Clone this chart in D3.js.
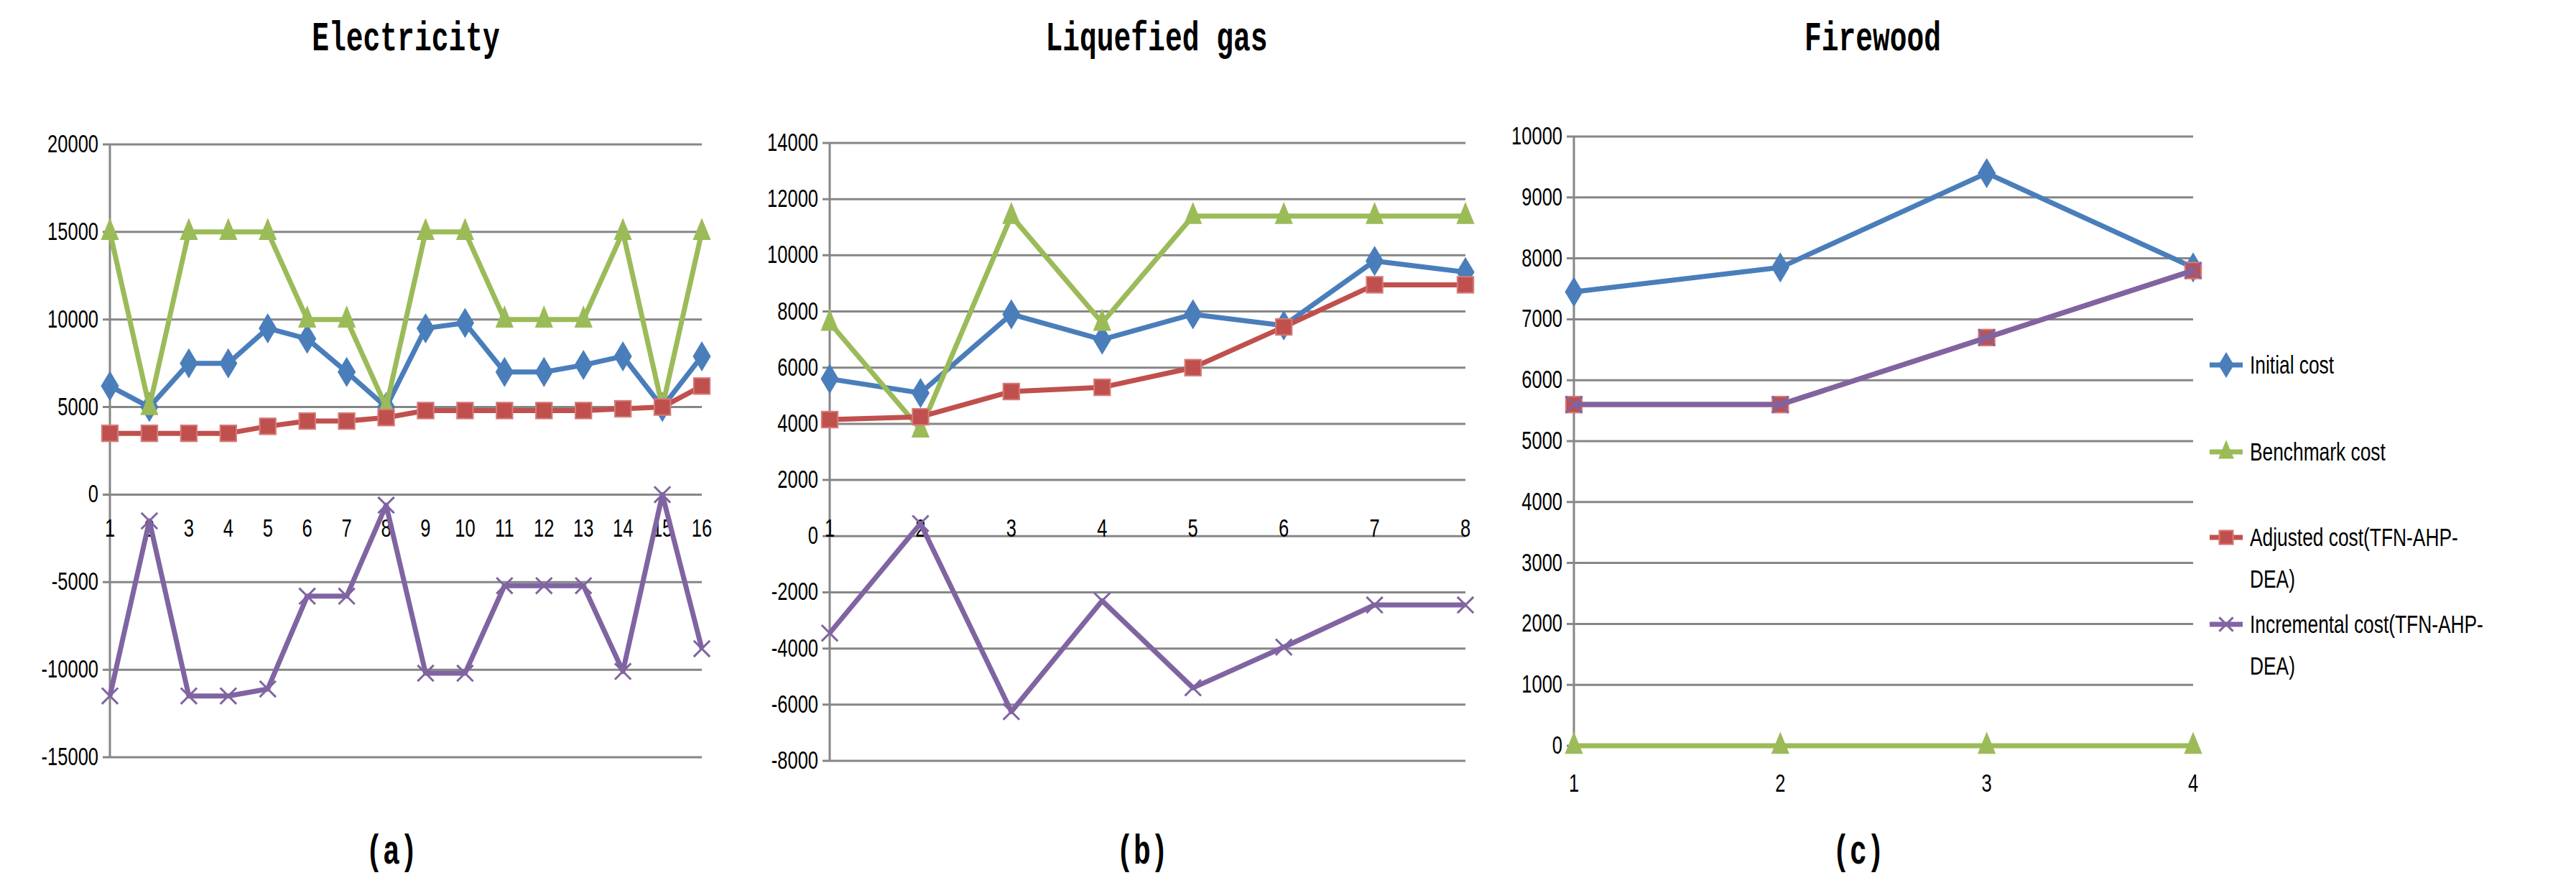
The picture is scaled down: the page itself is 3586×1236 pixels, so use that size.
<!DOCTYPE html>
<html><head><meta charset="utf-8">
<script src="https://cdn.jsdelivr.net/npm/d3@7"></script>
<style>body{margin:0;background:#fff}</style>
</head><body>
<svg id="chart" width="3586" height="1236"></svg>
<script>
// series names
var seriesNames=["Initial cost","Benchmark cost","Adjusted cost(TFN-AHP-DEA)","Incremental cost(TFN-AHP-DEA)"]
var colors=["#4a7ebb","#9bbb59","#c0504d","#8064a2"]
var markers=["diamond","triangle","square","cross"]

// (a) Electricity
var elecInitial=[6200,5000,7500,7500,9500,8900,7000,5000,9500,9800,7000,7000,7400,7900,5000,7900]
var elecBench=[15000,5000,15000,15000,15000,10000,10000,5000,15000,15000,10000,10000,10000,15000,5000,15000]
var elecAdjusted=[3500,3500,3500,3500,3900,4200,4200,4400,4800,4800,4800,4800,4800,4900,5000,6200]
var elecIncr=[-11500,-1500,-11500,-11500,-11100,-5800,-5800,-600,-10200,-10200,-5200,-5200,-5200,-10100,0,-8800]
var elecTicks=[-15000,-10000,-5000,0,5000,10000,15000,20000]

// (b) Liquefied gas
var gasInitial=[5600,5100,7900,7000,7900,7500,9800,9400]
var gasBench=[7600,3800,11400,7600,11400,11400,11400,11400]
var gasAdjusted=[4150,4250,5150,5300,6000,7450,8950,8950]
var gasIncr=[-3450,450,-6250,-2300,-5400,-3950,-2450,-2450]
var gasTicks=[-8000,-6000,-4000,-2000,0,2000,4000,6000,8000,10000,12000,14000]

// (c) Firewood
var woodInitial=[7450,7850,9400,7850]
var woodBench=[0,0,0,0]
var woodAdjusted=[5600,5600,6700,7800]
var woodIncr=[5600,5600,6700,7800]
var woodTicks=[0,1000,2000,3000,4000,5000,6000,7000,8000,9000,10000]

var svg=d3.select("#chart")
var labelFont="'Liberation Sans Narrow','Liberation Sans',Arial,sans-serif"
var titleFont="'Liberation Mono','DejaVu Sans Mono',monospace"

function marker(g,type,x,y,c,s){
  if(type=="diamond"){
    g.append("path").attr("d","M"+x+","+(y-s*0.75)+"L"+(x+s*0.45)+","+y+"L"+x+","+(y+s*0.75)+"L"+(x-s*0.45)+","+y+"Z").attr("fill",c)
  }else if(type=="triangle"){
    g.append("path").attr("d","M"+x+","+(y-s*0.7)+"L"+(x+s*0.45)+","+(y+s*0.4)+"L"+(x-s*0.45)+","+(y+s*0.4)+"Z").attr("fill",c)
  }else if(type=="square"){
    g.append("rect").attr("x",x-s*0.4).attr("y",y-s*0.4).attr("width",s*0.8).attr("height",s*0.8).attr("fill",c).attr("stroke","#d47c7a").attr("stroke-width",2)
  }else{
    g.append("path").attr("d","M"+(x-s*0.4)+","+(y-s*0.4)+"L"+(x+s*0.4)+","+(y+s*0.4)+"M"+(x+s*0.4)+","+(y-s*0.4)+"L"+(x-s*0.4)+","+(y+s*0.4)).attr("stroke",c).attr("stroke-width",3)
  }
}

// condensed text like the original
function narrowText(g,x,y,anchor,t,size){
  return g.append("text").attr("transform","translate("+x+","+y+") scale(0.85,1.15)")
    .attr("text-anchor",anchor).attr("font-family",labelFont).attr("font-size",size).text(t)
}

function panel(p){
  var n=p.series[0].length
  var x=d3.scaleLinear().domain([1,n]).range([p.left,p.right])
  var y=d3.scaleLinear().domain(p.domain).range([p.bottom,p.top])
  var g=svg.append("g")
  // gridlines
  g.selectAll(".grid").data(p.ticks).enter().append("line")
    .attr("x1",p.left-10).attr("x2",p.right).attr("y1",d=>y(d)).attr("y2",d=>y(d))
    .attr("stroke","#868686").attr("stroke-width",3)
  g.append("line").attr("x1",p.left).attr("x2",p.left).attr("y1",y(p.domain[0])).attr("y2",y(p.domain[1]))
    .attr("stroke","#868686").attr("stroke-width",3)
  p.ticks.forEach(function(d){ narrowText(g,p.left-16,y(d)+11,"end",d,30) })
  d3.range(1,n+1).forEach(function(d){ narrowText(g,x(d),p.xLabelY,"middle",d,30) })
  var line=d3.line().x((d,i)=>x(i+1)).y(d=>y(d))
  p.series.forEach(function(s,k){
    g.append("path").datum(s).attr("d",line).attr("fill","none")
      .attr("stroke",colors[k]).attr("stroke-width",7).attr("stroke-linejoin","round")
    s.forEach(function(v,i){ marker(g,markers[k],x(i+1),y(v),colors[k],28) })
  })
  svg.append("text").attr("transform","translate("+p.titleX+",70) scale(0.9,1.3)").attr("text-anchor","middle")
    .attr("font-family",titleFont).attr("font-weight","bold").attr("font-size",44).text(p.title)
  svg.append("text").attr("transform","translate("+(p.titleX-20)+",1202) scale(0.9,1.3)").attr("text-anchor","middle")
    .attr("font-family",titleFont).attr("font-weight","bold").attr("font-size",44).text(p.label)
}

panel({title:"Electricity",label:"(a)",titleX:565,left:153,right:977,top:201,bottom:1054,
  domain:[-15000,20000],ticks:elecTicks,xLabelY:747,
  series:[elecInitial,elecBench,elecAdjusted,elecIncr]})
panel({title:"Liquefied gas",label:"(b)",titleX:1610,left:1155,right:2040,top:199,bottom:1059,
  domain:[-8000,14000],ticks:gasTicks,xLabelY:747,
  series:[gasInitial,gasBench,gasAdjusted,gasIncr]})
panel({title:"Firewood",label:"(c)",titleX:2607,left:2191,right:3053,top:190,bottom:1038,
  domain:[0,10000],ticks:woodTicks,xLabelY:1102,
  series:[woodInitial,woodBench,woodAdjusted,woodIncr]})

// legend
var legY=[508,629,748,869]
var legLines=[["Initial cost"],["Benchmark cost"],["Adjusted cost(TFN-AHP-","DEA)"],["Incremental cost(TFN-AHP-","DEA)"]]
var lg=svg.append("g")
legY.forEach(function(ly,k){
  lg.append("line").attr("x1",3076).attr("x2",3122).attr("y1",ly).attr("y2",ly).attr("stroke",colors[k]).attr("stroke-width",7)
  marker(lg,markers[k],3099,ly,colors[k],24)
  legLines[k].forEach(function(t,j){ narrowText(lg,3132,ly+12+j*58,"start",t,31) })
})
</script>
</body></html>
